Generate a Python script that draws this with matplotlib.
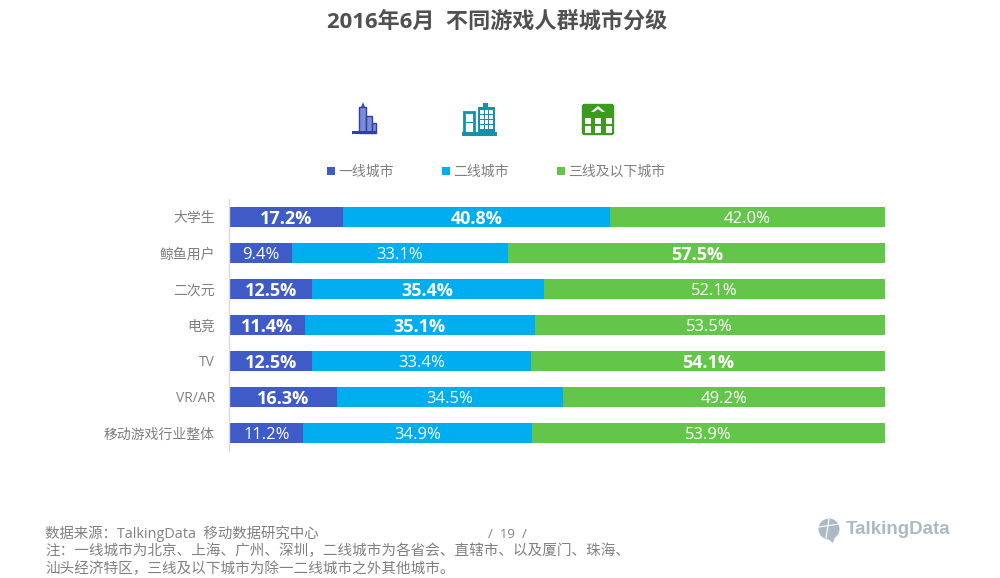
import matplotlib
matplotlib.use("Agg")
import matplotlib.pyplot as plt
from matplotlib.patches import Rectangle, Polygon, Circle, FancyBboxPatch

FONTS = ['Open Sans', 'Noto Sans CJK SC', 'DejaVu Sans']
plt.rcParams['font.family'] = FONTS

title = "2016年6月  不同游戏人群城市分级"
categories = ["大学生", "鲸鱼用户", "二次元", "电竞", "TV", "VR/AR", "移动游戏行业整体"]
series_names = ["一线城市", "二线城市", "三线及以下城市"]
tier1 = [17.2, 9.4, 12.5, 11.4, 12.5, 16.3, 11.2]
tier2 = [40.8, 33.1, 35.4, 35.1, 33.4, 34.5, 34.9]
tier3 = [42.0, 57.5, 52.1, 53.5, 54.1, 49.2, 53.9]
bold1 = [True, False, True, True, True, True, False]
bold2 = [True, False, True, True, False, False, False]
bold3 = [False, True, False, False, True, False, False]
colors = ["#3F5BC8", "#00AEEF", "#63C64A"]
source_lines = ["数据来源：TalkingData  移动数据研究中心",
                "注：一线城市为北京、上海、广州、深圳，二线城市为各省会、直辖市、以及厦门、珠海、",
                "汕头经济特区，三线及以下城市为除一二线城市之外其他城市。"]
page = "/  19  /"
logo = "TalkingData"

W, H = 1000, 578
fig = plt.figure(figsize=(W / 100, H / 100), dpi=100, facecolor="white")

# overlay in pixel coordinates for decoration
ov = fig.add_axes([0, 0, 1, 1])
ov.set_xlim(0, W)
ov.set_ylim(H, 0)
ov.axis("off")

# main chart
ax = fig.add_axes([230 / W, 1 - 451 / H, 655 / W, 252 / H])
ax.set_xlim(0, 100)
ax.set_ylim(len(categories) - 0.5, -0.5)
ax.patch.set_alpha(0)
ys = range(len(categories))
left = [0.0] * len(categories)
for vals, bolds, col in zip((tier1, tier2, tier3), (bold1, bold2, bold3), colors):
    ax.barh(list(ys), vals, left=left, height=0.58, color=col, linewidth=0)
    for y, v, l, b in zip(ys, vals, left, bolds):
        ax.text(l + v / 2, y + 0.05, f"{v:.1f}%", ha="center", va="center", color="white",
                fontsize=13 if b else 12, fontweight="bold" if b else "normal")
    left = [l + v for l, v in zip(left, vals)]
ax.set_yticks(list(ys))
ax.set_yticklabels(categories)
ax.set_xticks([])
ax.tick_params(axis="y", length=0, pad=10, labelsize=10, labelcolor="#7F7F7F")
for s in ("top", "right", "bottom"):
    ax.spines[s].set_visible(False)
ax.spines["left"].set_color("#D9D9D9")
ax.spines["left"].set_linewidth(1)
ax.spines["left"].set_position(("outward", 1))

# title
fig.text(497 / W, 1 - 22 / H, title, ha="center", va="center", fontsize=15.9,
         fontweight="bold", color="#505050")

# legend
for x, name, col in zip((327, 442, 557), series_names, colors):
    ov.add_patch(Rectangle((x, 167), 8, 8, color=col, lw=0))
    ov.text(x + 11, 172.5, name, ha="left", va="center", fontsize=10, color="#7F7F7F")

# icon 1: towers
c = "#3F51B5"
ov.add_patch(Rectangle((359, 107), 7, 26, fc="#7C8DD8", ec="#2F3FA8", lw=1))
ov.add_patch(Polygon([(361, 107), (363, 102), (365, 107)], color=c, lw=0))
ov.add_patch(Rectangle((366, 116), 6, 17, fc="#7C8DD8", ec="#2F3FA8", lw=1))
ov.add_patch(Rectangle((372, 123), 4, 10, fc="#7C8DD8", ec="#2F3FA8", lw=1))
ov.add_patch(Rectangle((352, 131), 25, 3, color="#2F3FA8", lw=0))

# icon 2: office buildings
c = "#1591AC"
ov.add_patch(Rectangle((464, 112), 10, 21, fc="white", ec=c, lw=2))
ov.add_patch(Rectangle((465.5, 121.5), 7, 1.5, fc=c, lw=0))
ov.add_patch(Rectangle((478, 107), 17, 26, fc=c, lw=0))
ov.add_patch(Rectangle((483, 103), 5, 5, fc=c, lw=0))
ov.add_patch(Rectangle((462, 132), 35, 3.5, fc=c, lw=0))
for gx in (480, 484.5, 489):
    for gy in (110, 115, 120, 125):
        ov.add_patch(Rectangle((gx, gy), 3.5, 3.5, fc="white", lw=0))

# icon 3: green house
c = "#3C9A1F"
ov.add_patch(FancyBboxPatch((582.5, 104.5), 31, 30, boxstyle="round,pad=0,rounding_size=2",
                            fc=c, ec=c, lw=1))
for gx in (585, 595, 606):
    ov.add_patch(Rectangle((gx, 118), 6, 6, fc="white", lw=0))
    ov.add_patch(Rectangle((gx, 126), 6, 7, fc="white", lw=0))
ov.add_patch(Polygon([(591, 112), (598, 106), (605, 112), (602, 112), (598, 109), (594, 112)],
                     fc="white", lw=0))

# footer
for y, line, fs in zip((534, 552, 570), source_lines, (10.4, 10.5, 10.5)):
    ov.text(45, y, line, ha="left", va="center", fontsize=fs, color="#808080")
ov.text(507, 534, page, ha="center", va="center", fontsize=9.5, color="#808080")

# logo
ov.add_patch(Circle((829, 529), 10.5, fc="#AEB9C6", lw=0))
ov.add_patch(Polygon([(826, 537), (835, 537), (833, 543)], fc="#AEB9C6", lw=0))
ov.plot([819, 839], [527, 524], color="white", lw=0.8)
ov.plot([829, 826], [519, 538], color="white", lw=0.8)
ov.text(846, 530, logo, ha="left", va="center", fontsize=13.5, fontweight="bold",
        color="#AEB9C6", family=['Liberation Sans', 'DejaVu Sans'])

fig.savefig("out.png", dpi=100, facecolor="white")
